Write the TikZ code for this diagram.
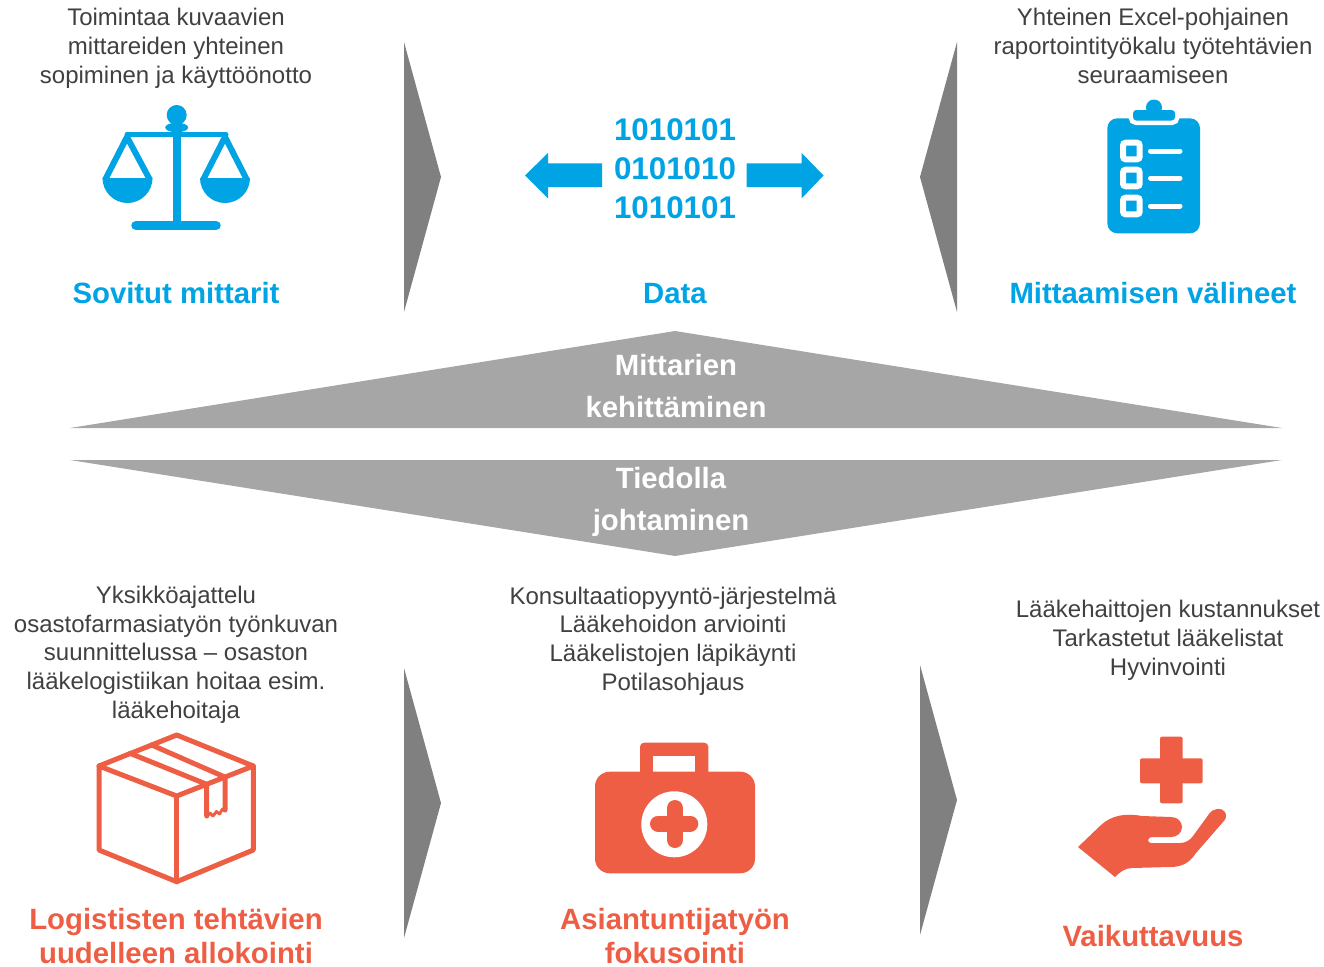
\documentclass[tikz,border=0pt]{standalone}
\usepackage{fontspec}
\setmainfont{Liberation Sans}
\definecolor{cblue}{RGB}{0,163,228}
\definecolor{corange}{RGB}{238,94,68}
\definecolor{ctext}{RGB}{64,64,64}
\definecolor{cband}{RGB}{166,166,166}
\definecolor{cchev}{RGB}{128,128,128}
\begin{document}
\begin{tikzpicture}[x=0.75pt,y=-0.75pt,
  bodytext/.style={text=ctext, font=\fontsize{18}{21.6}\selectfont, align=center, anchor=base, inner sep=0pt},
  bluetitle/.style={text=cblue, font=\fontsize{22}{25.5}\selectfont\bfseries, align=center, anchor=base, inner sep=0pt},
  orangetitle/.style={text=corange, font=\fontsize{22}{25.5}\selectfont\bfseries, align=center, anchor=base, inner sep=0pt},
  bandtext/.style={text=white, font=\fontsize{22}{31.5}\selectfont\bfseries, align=center, anchor=base, inner sep=0pt},
  bintext/.style={text=cblue, font=\fontsize{23.5}{28.9}\selectfont\bfseries, align=center, anchor=base, inner sep=0pt},
  chev/.style={fill=cchev},
  band/.style={fill=cband},
  boxline/.style={draw=corange, line width=3.75pt, line join=round, line cap=round}
]
\useasboundingbox (0,0) rectangle (1324,967);

% chevrons
\fill[chev] (404,42) -- (441,177) -- (404,312) -- cycle;
\fill[chev] (957,42) -- (920,177) -- (957,312) -- cycle;
\fill[chev] (404,668) -- (441,803) -- (404,938) -- cycle;
\fill[chev] (920,665) -- (957,800) -- (920,935) -- cycle;

% bands
\fill[band] (70,428) -- (675,331) -- (1282,428) -- cycle;
\fill[band] (70,460) -- (1282,460) -- (675,556) -- cycle;

% top texts (anchor base = last line baseline)
\node[bodytext] (t1) at (176,83.5) {Toimintaa kuvaavien\\mittareiden yhteinen\\sopiminen ja käyttöönotto};
\node[bodytext] (t3) at (1153,83.5) {Yhteinen Excel-pohjainen\\raportointityökalu työtehtävien\\seuraamiseen};
\node[bluetitle] (h1) at (176,303.5) {Sovitut mittarit};
\node[bluetitle] (h2) at (675,303.5) {Data};
\node[bluetitle] (h3) at (1153,303.5) {Mittaamisen välineet};
\node[bintext] (bin) at (675,218) {1010101\\0101010\\1010101};

% band texts
\node[bandtext] (b1) at (676,417.5) {Mittarien\\kehittäminen};
\node[bandtext] (b2) at (671,530.5) {Tiedolla\\johtaminen};

% bottom texts
\node[bodytext] (u1) at (176,718.5) {Yksikköajattelu\\osastofarmasiatyön työnkuvan\\suunnittelussa – osaston\\lääkelogistiikan hoitaa esim.\\lääkehoitaja};
\node[bodytext] (u2) at (673,690.5) {Konsultaatiopyyntö-järjestelmä\\Lääkehoidon arviointi\\Lääkelistojen läpikäynti\\Potilasohjaus};
\node[bodytext] (u3) at (1168,675.5) {Lääkehaittojen kustannukset\\Tarkastetut lääkelistat\\Hyvinvointi};
\node[orangetitle] (o1) at (176,963.5) {Logististen tehtävien\\uudelleen allokointi};
\node[orangetitle] (o2) at (675,963.5) {Asiantuntijatyön\\fokusointi};
\node[orangetitle] (o3) at (1153,946.5) {Vaikuttavuus};

% data arrows
\fill[cblue] (525,175.5) -- (548,153) -- (548,163.3) -- (602,163.3) -- (602,187) -- (548,187) -- (548,198.3) -- cycle;
\fill[cblue] (823.5,175.5) -- (801.7,153) -- (801.7,163.3) -- (746.7,163.3) -- (746.7,187) -- (801.7,187) -- (801.7,198.3) -- cycle;

% scale icon
\fill[cblue] (176.7,115) circle[radius=7.5pt];
\fill[cblue] (176.7,127.5) ellipse[x radius=8.6pt, y radius=3.6pt];
\draw[cblue, line width=3.75pt, line cap=round] (127,134.5) -- (226,134.5);
\fill[cblue] (172.7,130) rectangle (180.7,224);
\draw[cblue, line width=7.1pt, line cap=round] (136,225.5) -- (216,225.5);
\draw[cblue, line width=4.5pt, line join=round] (105,180) -- (127,137) -- (150,180);
\draw[cblue, line width=4.5pt, line join=round] (203,180) -- (225,137) -- (247,180);
\fill[cblue] (152.5,178) arc[start angle=0, end angle=-180, radius=18.75pt] -- cycle;
\fill[cblue] (250,178) arc[start angle=0, end angle=-180, radius=18.75pt] -- cycle;

% clipboard icon
\fill[cblue, rounded corners=7.5pt] (1107.3,118.3) rectangle (1200,233.3);
\draw[white, line width=6.75pt, rounded corners=2.5pt] (1133,110) rectangle (1175,120.5);
\fill[cblue] (1154,107.5) circle[radius=6pt];
\fill[cblue, rounded corners=2.5pt] (1133,110) rectangle (1175,120.5);
\foreach \yy in {151,178,206} {
  \draw[white, line width=4.5pt, rounded corners=2pt] (1123,\yy-8.3) rectangle (1139.7,\yy+8.3);
  \draw[white, line width=3.75pt, line cap=round] (1150.5,\yy) -- (1180,\yy);
}

% box icon
\draw[boxline] (176.7,735) -- (99,766) -- (99,850) -- (176.7,881.7) -- (253.3,850) -- (253.3,766) -- cycle;
\draw[boxline] (99,766) -- (176.7,796) -- (253.3,766);
\draw[boxline] (176.7,796) -- (176.7,881.7);
\draw[boxline] (130,753.3) -- (206.7,784.3) -- (206.7,816);
\draw[boxline] (151.7,745) -- (225,777.1) -- (225,810);
\draw[draw=corange, line width=2.2pt, line join=round] (206.7,817) -- (210,813) -- (213,816) -- (216.5,811.5) -- (219.5,814) -- (222.5,809) -- (225,811);

% medical kit icon
\fill[corange, rounded corners=3pt] (640,742.7) rectangle (708.3,780);
\fill[white] (653.3,756) rectangle (695,775);
\fill[corange, rounded corners=11pt] (595,771.7) rectangle (755,873.3);
\fill[white] (674.3,824.3) circle[radius=24.75pt];
\draw[corange, line width=12pt, line cap=round] (658,823.5) -- (690.3,823.5);
\draw[corange, line width=12pt, line cap=round] (675,808) -- (675,840);

% hand icon
\fill[corange, rounded corners=1.5pt] (1160,736.7) rectangle (1182.7,803.3);
\fill[corange, rounded corners=1.5pt] (1140,758.3) rectangle (1202.7,783.3);
\fill[corange] (1078,847) -- (1101,825) .. controls (1112,815) and (1126,813) .. (1142,816)
  -- (1171,817) .. controls (1178,817) and (1182,822) .. (1182,827)
  .. controls (1182,833) and (1177,837) .. (1171,837) -- (1152,837)
  .. controls (1147,837) and (1147,843) .. (1151,843) -- (1180,843)
  .. controls (1186,843) and (1190,840) .. (1193,836) -- (1209,814)
  .. controls (1213,808) and (1222,807) .. (1225,812)
  .. controls (1227,816) and (1226,819) .. (1223,822) -- (1196,853)
  .. controls (1190,862) and (1183,867) .. (1170,867) -- (1132,868)
  .. controls (1125,868) and (1120,872) .. (1115,877) -- cycle;
\end{tikzpicture}
\end{document}
